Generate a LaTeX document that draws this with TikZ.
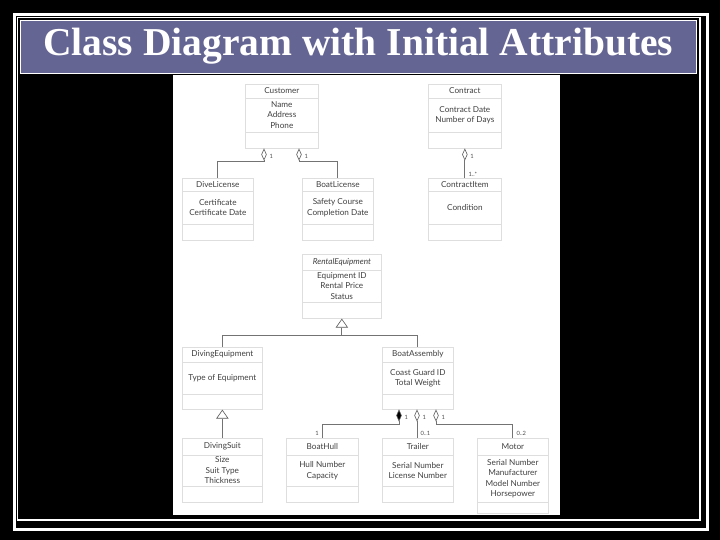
\documentclass[tikz,border=0pt]{standalone}
\usepackage{fontspec}
\setmainfont{Liberation Serif}
\newfontfamily\umlfont{Lato}
\usetikzlibrary{shapes.geometric,calc}
\tikzset{
  boxframe/.style={draw=black!13,line width=0.7pt,fill=white,inner sep=0pt,anchor=north west},
  divline/.style={draw=black!13,line width=0.7pt},
  utext/.style={font=\umlfont\fontsize{8.2}{10.5}\selectfont,text=black!75,align=center,inner sep=0pt},
  small/.style={font=\umlfont\fontsize{5.8}{6}\selectfont,text=black!70,inner sep=0.5pt},
  conn/.style={draw=black!55,line width=0.8pt},
  odiam/.style={diamond,draw=black!65,fill=white,line width=0.6pt,minimum width=5pt,minimum height=11pt,inner sep=0pt,anchor=north},
  fdiam/.style={odiam,fill=black},
  gentri/.style={isosceles triangle,isosceles triangle apex angle=70,shape border rotate=90,draw=black!65,fill=white,line width=0.6pt,minimum height=8pt,inner sep=0pt,anchor=apex}
}
\newcommand{\umlbox}[9]{%
  \node[boxframe,minimum width=#4pt,minimum height=#5pt] (#1) at (#2,#3) {};
  \draw[divline] ([yshift=-#6pt]#1.north west) -- ([yshift=-#6pt]#1.north east);
  \draw[divline] ([yshift=-#7pt]#1.north west) -- ([yshift=-#7pt]#1.north east);
  \node[utext] (#1t) at ([yshift={-#6pt/2}]#1.north) {#8};
  \node[utext] (#1a) at ([yshift={-(#6pt+#7pt)/2}]#1.north) {#9};
}
\begin{document}
\begin{tikzpicture}[x=1pt,y=-1pt]
\fill[black] (0,0) rectangle (720,540);
\useasboundingbox (0,0) rectangle (720,540);
\draw[white,line width=3pt] (14.5,14.5) rectangle (707.5,529);
\draw[white,line width=1.3pt] (17.5,17.5) rectangle (700,520);
\node[fill={rgb,255:red,101;green,101;blue,148},draw=white,line width=0.5pt,minimum width=676pt,minimum height=53pt,anchor=north west,inner sep=0pt] (title) at (20,20) {};
\node[text=white,font=\bfseries\fontsize{39.5}{42}\selectfont] (titletext) at ([yshift=1pt]title.center) {Class Diagram with Initial Attributes};
\fill[white] (173,75) rectangle (560,515);

\umlbox{cust}{245}{84}{73}{64}{14}{48}{Customer}{Name\\Address\\Phone}
\umlbox{contr}{428}{84}{73}{64}{14}{48}{Contract}{Contract Date\\Number of Days}
\umlbox{dive}{182}{178}{71}{62}{13}{46}{DiveLicense}{Certificate\\Certificate Date}
\umlbox{boatl}{302}{178}{71}{62}{13}{46}{BoatLicense}{Safety Course\\Completion Date}
\umlbox{citem}{428}{178}{73}{62}{13}{46}{ContractItem}{Condition}
\umlbox{rent}{302}{254}{79}{64}{16}{48}{\itshape RentalEquipment}{Equipment ID\\Rental Price\\Status}
\umlbox{divq}{182}{347}{80}{62}{15}{47}{DivingEquipment}{Type of Equipment}
\umlbox{boata}{382}{347}{71}{62}{15}{47}{BoatAssembly}{Coast Guard ID\\Total Weight}
\umlbox{suit}{182}{438}{80}{64}{17}{48}{DivingSuit}{Size\\Suit Type\\Thickness}
\umlbox{hull}{286}{438}{72}{64}{17}{48}{BoatHull}{Hull Number\\Capacity}
\umlbox{trail}{382}{438}{71}{64}{17}{48}{Trailer}{Serial Number\\License Number}
\umlbox{motor}{477}{438}{71}{75}{17}{64}{Motor}{Serial Number\\Manufacturer\\Model Number\\Horsepower}

% Customer aggregations
\node[odiam] (d1) at ([xshift=19pt]cust.south west) {};
\node[odiam] (d2) at ([xshift=54pt]cust.south west) {};
\draw[conn] (d1.south) |- ([yshift=17pt]dive.north) -- (dive.north);
\draw[conn] (d2.south) |- ([yshift=17pt]boatl.north) -- (boatl.north);
\node[small,anchor=west] (l1) at ([xshift=2pt,yshift=-2pt]d1.east) {1};
\node[small,anchor=west] (l2) at ([xshift=2pt,yshift=-2pt]d2.east) {1};
% Contract
\node[odiam] (d3) at (contr.south) {};
\draw[conn] (d3.south) -- (citem.north);
\node[small,anchor=west] (l3) at ([xshift=2pt,yshift=-2pt]d3.east) {1};
\node[small,anchor=south west] (l4) at ([xshift=3pt,yshift=1pt]citem.north) {1..*};
% Generalization
\node[gentri] (t1) at (rent.south) {};
\draw[conn] (t1.south) -- ++(0,8) coordinate (gj);
\draw[conn] (divq.north) |- (gj) -| (boata.north);
\node[gentri] (t2) at (divq.south) {};
\draw[conn] (t2.south) -- (suit.north);
% BoatAssembly parts
\node[fdiam] (d4) at ([xshift=17pt]boata.south west) {};
\node[odiam] (d5) at ([xshift=35pt]boata.south west) {};
\node[odiam] (d6) at ([xshift=54pt]boata.south west) {};
\draw[conn] (d4.south) |- ([yshift=14pt]hull.north) -- (hull.north);
\draw[conn] (d5.south) -- (d5.south |- trail.north);
\draw[conn] (d6.south) |- ([yshift=14pt]motor.north) -- (motor.north);
\node[small,anchor=west] (l5) at ([xshift=2pt,yshift=-2pt]d4.east) {1};
\node[small,anchor=west] (l6) at ([xshift=2pt,yshift=-2pt]d5.east) {1};
\node[small,anchor=west] (l7) at ([xshift=2pt,yshift=-2pt]d6.east) {1};
\node[small,anchor=south east] (l8) at ([xshift=-3pt,yshift=2pt]hull.north) {1};
\node[small,anchor=south west] (l9) at ([xshift=3pt,yshift=2pt]d5.south |- trail.north) {0..1};
\node[small,anchor=south west] (l10) at ([xshift=3pt,yshift=2pt]motor.north) {0..2};
\end{tikzpicture}
\end{document}
